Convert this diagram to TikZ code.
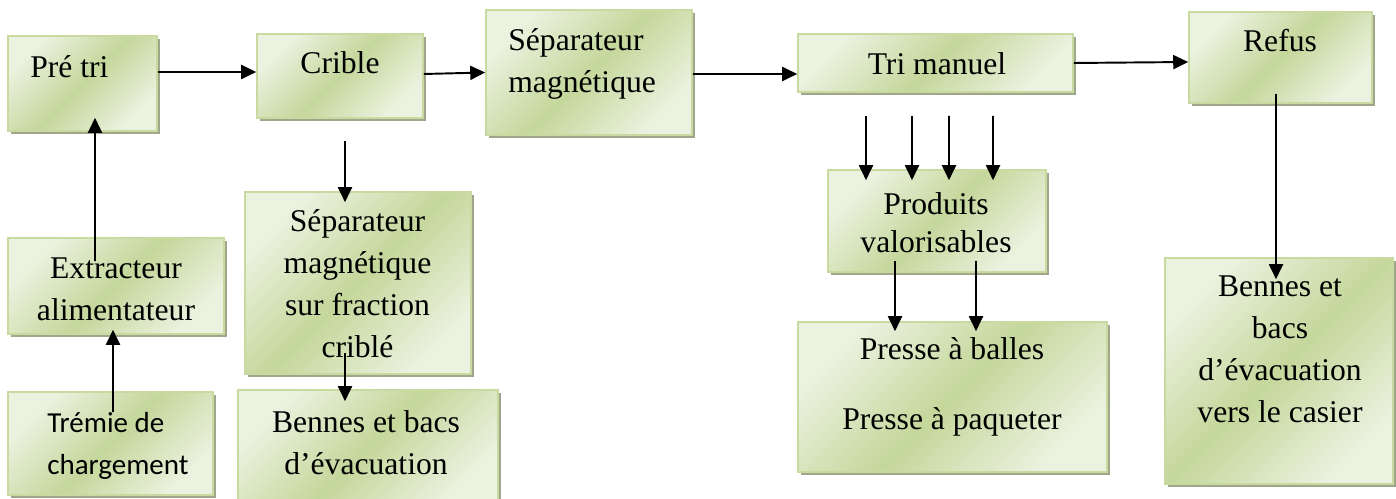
\documentclass[tikz,border=0pt]{standalone}
\usepackage{fontspec}
\setmainfont{Liberation Serif}
\newfontfamily\policesans{Carlito}
\usetikzlibrary{arrows.meta,shadows,calc}

\begin{document}
\begin{tikzpicture}[x=0.02cm, y=-0.02cm]

    \def\u{0.02cm}
    \definecolor{vertclair}{RGB}{236,242,224}
    \definecolor{vertfonce}{RGB}{196,215,155}
    \definecolor{vertbord}{RGB}{200,218,160}
    \definecolor{ombre}{RGB}{160,166,138}

    \tikzset{
        boite/.style={draw=vertbord, line width=0.9pt, inner sep=0pt, top color=vertclair, bottom color=vertclair, middle color=vertfonce, shading angle=45, drop shadow={shadow xshift=0.06cm, shadow yshift=-0.07cm, fill=ombre, opacity=1}},
        texte/.style={align=center, anchor=base, inner sep=0pt, font=\fontsize{18}{24}\selectfont},
        fleche/.style={line width=1.1pt, -{Triangle[length=0.3cm, width=0.28cm]}}
    }

    \useasboundingbox (0,0) rectangle (1396,499);

    % les boites
    \node[boite, minimum width=149*\u, minimum height=95*\u] (pretri) at (82.5,83.5) {};
    \node[boite, minimum width=166*\u, minimum height=84*\u] (crible) at (340,76) {};
    \node[boite, minimum width=206*\u, minimum height=125*\u] (sepmag) at (589,72.5) {};
    \node[boite, minimum width=275*\u, minimum height=58*\u] (trimanuel) at (935.5,63) {};
    \node[boite, minimum width=183*\u, minimum height=91*\u] (refus) at (1280.5,57.5) {};
    \node[boite, minimum width=216*\u, minimum height=96*\u] (extracteur) at (116,286) {};
    \node[boite, minimum width=205*\u, minimum height=103*\u] (tremie) at (110.5,443.5) {};
    \node[boite, minimum width=226*\u, minimum height=182*\u] (sepfrac) at (358,283) {};
    \node[boite, minimum width=260*\u, minimum height=116*\u] (bennesG) at (368,448) {};
    \node[boite, minimum width=218*\u, minimum height=102*\u] (produits) at (937,221) {};
    \node[boite, minimum width=309*\u, minimum height=150*\u] (presse) at (952.5,397) {};
    \node[boite, minimum width=228*\u, minimum height=226*\u] (bennesD) at (1279,371) {};

    % les textes (base = ligne du bas)
    \node[texte, anchor=base west] (t-pretri) at (30,78) {Pré tri};
    \node[texte] (t-crible) at (340,74) {Crible};
    \node[texte, align=left, anchor=base west] (t-sepmag) at (508,93) {Séparateur\\magnétique};
    \node[texte] (t-trimanuel) at (937,75) {Tri manuel};
    \node[texte] (t-refus) at (1280,52) {Refus};
    \node[texte] (t-extracteur) at (116,321) {Extracteur\\alimentateur};
    \node[texte, align=left, anchor=base west, font=\policesans\fontsize{16.5}{24}\selectfont] (t-tremie) at (47,475) {Trémie de\\chargement};
    \node[texte] (t-sepfrac) at (357.5,358) {Séparateur\\magnétique\\sur fraction\\criblé};
    \node[texte] (t-bennesG) at (366,475) {Bennes et bacs\\d’évacuation};
    \node[texte] (t-produits) at (936,253) {Produits\\[-2.3pt]valorisables};
    \node[texte] (t-presse) at (952,430) {Presse à balles\\[16pt]Presse à paqueter};
    \node[texte] (t-bennesD) at (1280,423) {Bennes et\\bacs\\d’évacuation\\vers le casier};

    % les fleches
    \draw[fleche] ($(pretri.east)+(0,-11.5)$) -- ($(crible.west)+(0,-4)$);
    \draw[fleche] ($(crible.east)+(0,-2)$) -- (sepmag.west);
    \draw[fleche] ($(sepmag.east)+(0,1.5)$) -- ($(trimanuel.west)+(0,11)$);
    \draw[fleche] (trimanuel.east) -- ($(refus.west)+(0,4.5)$);
    \draw[fleche] ($(extracteur.north)+(-21,24)$) -- ($(pretri.south)+(12.5,-14)$);
    \draw[fleche] ($(tremie.north)+(2.5,21)$) -- ($(extracteur.south)+(-3,-5)$);
    \draw[fleche] ($(crible.south)+(5,22)$) -- ($(sepfrac.north)+(-13,11)$);
    \draw[fleche] ($(sepfrac.south)+(-13,-22)$) -- ($(bennesG.north)+(-23,12)$);
    \foreach \dx in {-69.5,-23.5,13.5,57.5}
        \draw[fleche] ($(trimanuel.south)+(\dx,23)$) -- ($(produits.north)+(\dx-1.5,11)$);
    \draw[fleche] ($(produits.south)+(-42,-12)$) -- ($(presse.north)+(-57.5,10)$);
    \draw[fleche] ($(produits.south)+(39,-12)$) -- ($(presse.north)+(23.5,10)$);
    \draw[fleche] ($(refus.south)+(-4.5,-10)$) -- ($(bennesD.north)+(-3,22)$);

\end{tikzpicture}
\end{document}
